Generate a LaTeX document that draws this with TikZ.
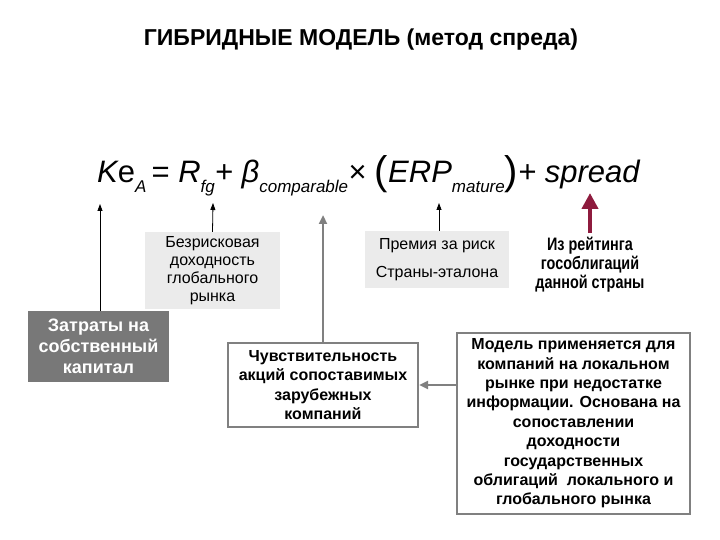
\documentclass[tikz,border=0pt]{standalone}
\usepackage{fontspec}
\setmainfont{Liberation Sans}
\newfontfamily\narrowfont[FakeStretch=0.8]{Liberation Sans}
\usetikzlibrary{arrows.meta}

\definecolor{darkbox}{HTML}{787878}
\definecolor{lightbox}{HTML}{EBEBEB}
\definecolor{framegray}{HTML}{808080}
\definecolor{wine}{HTML}{8E1B3E}

\newcommand{\lowsub}[1]{\raisebox{-0.30em}{\fontsize{17}{17}\selectfont\itshape #1}}
\newcommand{\bigparen}[1]{\raisebox{-0.06em}{\fontsize{40}{40}\selectfont\upshape #1}}

\tikzset{
  darkfill/.style={fill=darkbox, text=white, font=\fontsize{18}{21}\selectfont\bfseries, align=center, inner sep=2pt},
  lightfill/.style={fill=lightbox, font=\fontsize{16}{18}\selectfont, align=center, inner sep=2pt},
  framed/.style={draw=framegray, line width=2pt, fill=white, font=\fontsize{16}{19.4}\selectfont\bfseries, align=center, inner sep=3pt},
  thinarrow/.style={-{Triangle[length=7pt,width=5pt]}, thick},
  grayarrow/.style={-{Triangle[length=9pt,width=8pt]}, draw=framegray, line width=2.5pt}
}

\begin{document}
\begin{tikzpicture}[x=1pt, y=-1pt]
\useasboundingbox (0,0) rectangle (720,540);

\node (title) at (361,40) {\fontsize{23}{26}\selectfont\bfseries ГИБРИДНЫЕ МОДЕЛЬ (метод спреда)};

% formula
\node[inner sep=0pt, anchor=base west] (formula) at (97,183) {\fontsize{31}{34}\selectfont\itshape
  K\upshape e\lowsub{A}\,= \itshape R\lowsub{fg}+ β\lowsub{comparable}× \bigparen{(}ERP\lowsub{mature}\bigparen{)}+ spread};

\coordinate (ke) at (100,204);
\coordinate (rf) at (213,203);
\coordinate (beta) at (323,215);
\coordinate (erp) at (439,203);
\coordinate (spr) at (590,193);

\node[darkfill, minimum width=141pt, minimum height=71pt] (cost) at (98.5,346.5) {Затраты на\\собственный\\капитал};
\node[lightfill, minimum width=135pt, minimum height=77pt] (riskfree) at (212.5,270.5) {Безрисковая\\доходность\\глобального\\рынка};
\node[lightfill, minimum width=144pt, minimum height=57pt] (premium) at (437,259.5) {Премия за риск\\[10pt]Страны-эталона};
\node[font=\fontsize{18}{19}\selectfont\narrowfont\bfseries, align=center, inner sep=0pt] (rating) at (590,265) {Из рейтинга\\гособлигаций\\данной страны};

\node[framed, minimum width=190pt, minimum height=84pt] (sens) at (323,385) {Чувствительность\\акций сопоставимых\\зарубежных\\компаний};
\node[framed, minimum width=233pt, minimum height=181pt] (model) at (573.5,423.5) {Модель применяется для\\компаний на локальном\\рынке при недостатке\\информации. Основана на\\сопоставлении\\доходности\\государственных\\облигаций\ \ локального и\\глобального рынка};

\draw[thinarrow] (cost.north -| ke) -- (ke);
\draw[thinarrow] (riskfree.north) -- (rf);
\draw[thinarrow] (premium.north -| erp) -- (erp);
\draw[grayarrow] (sens.north) -- (beta);
\draw[grayarrow] (model.west |- sens.east) -- (sens.east);
\draw[-{Triangle[length=16pt,width=16pt]}, draw=wine, fill=wine, line width=4pt] (rating.north |- 0,233) -- (spr);
\end{tikzpicture}
\end{document}
